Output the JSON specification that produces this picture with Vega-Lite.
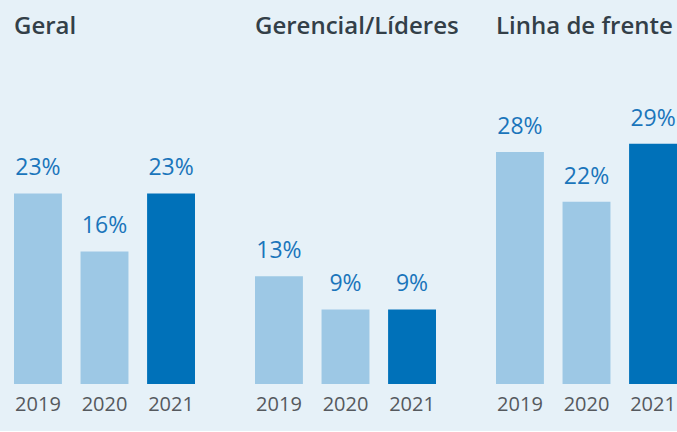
{
  "$schema": "https://vega.github.io/schema/vega-lite/v6.json",
  "background": "#e6f1f8",
  "padding": {"left": 14, "top": 15, "right": 0, "bottom": 17},
  "data": {"values": [
    {"grupo": "Geral", "ano": "2019", "valor": 0.23},
    {"grupo": "Geral", "ano": "2020", "valor": 0.16},
    {"grupo": "Geral", "ano": "2021", "valor": 0.23},
    {"grupo": "Gerencial/Líderes", "ano": "2019", "valor": 0.13},
    {"grupo": "Gerencial/Líderes", "ano": "2020", "valor": 0.09},
    {"grupo": "Gerencial/Líderes", "ano": "2021", "valor": 0.09},
    {"grupo": "Linha de frente", "ano": "2019", "valor": 0.28},
    {"grupo": "Linha de frente", "ano": "2020", "valor": 0.22},
    {"grupo": "Linha de frente", "ano": "2021", "valor": 0.29}
  ]},
  "spacing": 60,
  "facet": {
    "column": {
      "field": "grupo",
      "type": "nominal",
      "sort": ["Geral", "Gerencial/Líderes", "Linha de frente"],
      "header": {
        "title": null,
        "labelOrient": "top",
        "labelAnchor": "start",
        "labelFont": "Open Sans",
        "labelFontSize": 24,
        "labelFontWeight": 600,
        "labelColor": "#333f48",
        "labelPadding": 55
      }
    }
  },
  "spec": {
    "width": 181,
    "height": 290,
    "encoding": {
      "x": {
        "field": "ano",
        "type": "nominal",
        "scale": {"paddingInner": 0.28, "paddingOuter": 0},
        "axis": {
          "title": null,
          "domain": false,
          "ticks": false,
          "labelAngle": 0,
          "labelFont": "Open Sans",
          "labelFontSize": 20,
          "labelColor": "#55595e",
          "labelPadding": 10
        }
      },
      "y": {
        "field": "valor",
        "type": "quantitative",
        "scale": {"domain": [0, 0.35], "nice": false},
        "axis": null
      }
    },
    "layer": [
      {
        "mark": {"type": "bar"},
        "encoding": {
          "color": {
            "field": "ano",
            "type": "nominal",
            "scale": {"domain": ["2019", "2020", "2021"], "range": ["#9dc8e5", "#9dc8e5", "#0071b9"]},
            "legend": null
          }
        }
      },
      {
        "mark": {"type": "text", "baseline": "alphabetic", "dy": -18, "font": "Open Sans", "fontSize": 23, "color": "#1a75bb"},
        "encoding": {
          "text": {"field": "valor", "type": "quantitative", "format": ".0%"}
        }
      }
    ]
  },
  "config": {
    "view": {"stroke": null},
    "axis": {"grid": false}
  }
}
